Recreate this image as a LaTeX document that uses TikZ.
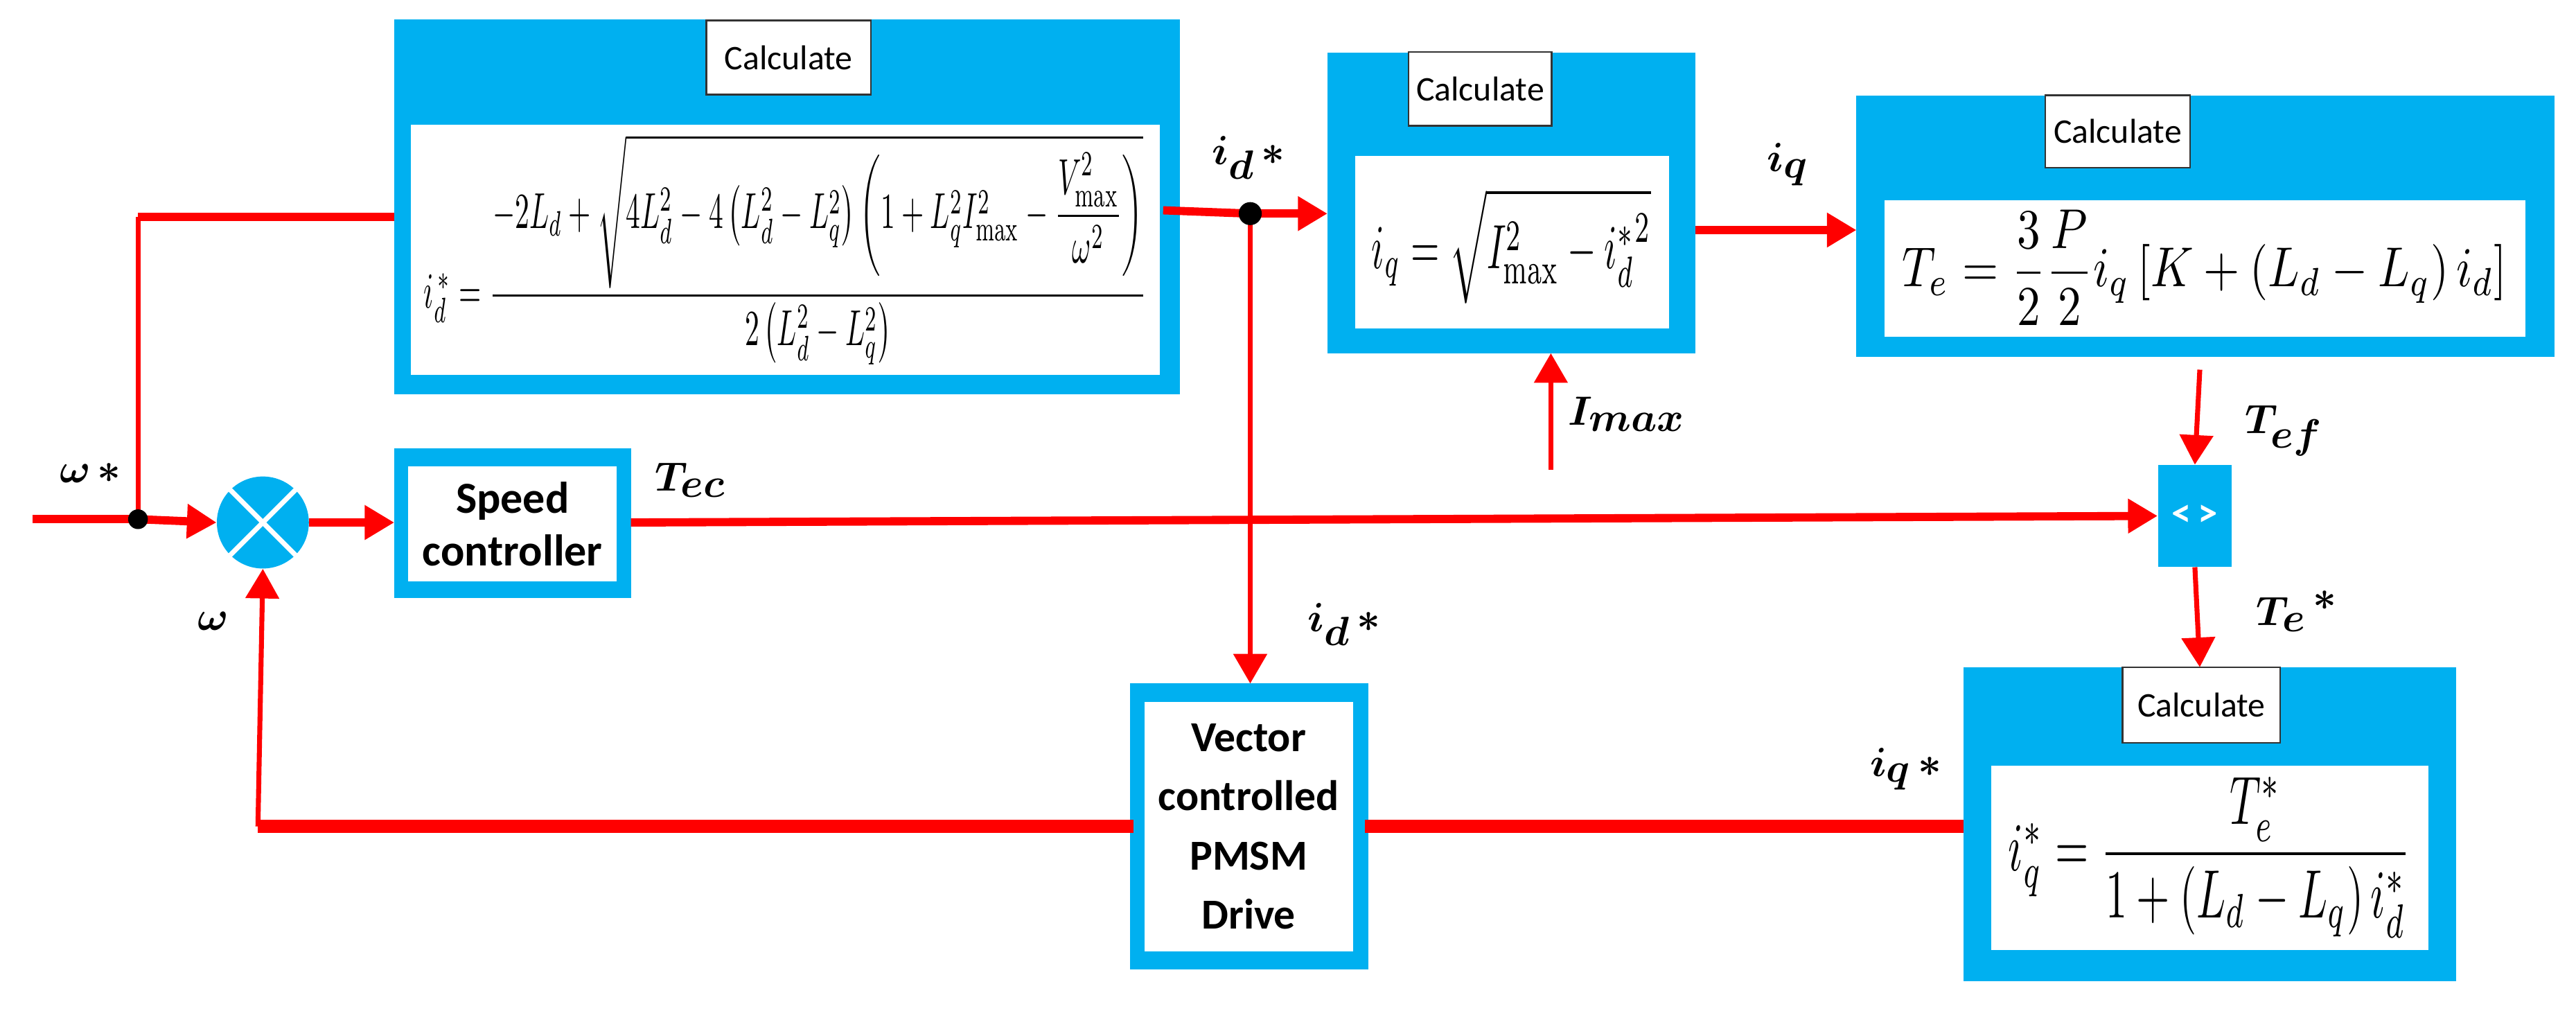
\documentclass[tikz,border=0pt]{standalone}
\usepackage{fontspec}
\usepackage{amsmath,bm}
\newfontfamily\calib{Carlito}
\usetikzlibrary{arrows.meta}
\definecolor{sky}{HTML}{00B0F0}
\tikzset{
 blk/.style={fill=sky,draw=none},
 wht/.style={fill=white,draw=none},
 calc/.style={fill=white,draw=black!80,line width=1pt,font=\calib\fontsize{21}{24}\selectfont,inner sep=0pt},
 sig/.style={draw=red,line width=5pt},
 thin/.style={draw=red,line width=3pt},
 arr/.style={-{Triangle[length=18pt,width=20pt]}},
 lab/.style={font=\fontsize{42}{44}\selectfont,inner sep=0pt},
}
\begin{document}
\begin{tikzpicture}[x=1pt,y=-1pt]
\useasboundingbox (0,0) rectangle (1568,615);
% Box1
\path[blk] (240,12) rectangle (718,240);
\path[wht] (250,76) rectangle (706,228);
\node[calc,minimum width=100pt,minimum height=45pt] (c1) at (480,35) {Calculate};
\node[inner sep=0pt] (f1) at (478,152) {\resizebox*{440pt}{140pt}{$i_d^{\,*}=\dfrac{-2L_d+\sqrt{4L_d^2-4\left(L_d^2-L_q^2\right)\left(1+L_q^2I_{\max}^2-\dfrac{V_{\max}^2}{\omega^2}\right)}}{2\left(L_d^2-L_q^2\right)}$}};
% Box2
\path[blk] (808,32) rectangle (1032,215);
\path[wht] (825,95) rectangle (1016,200);
\node[calc,minimum width=87pt,minimum height=45pt] (c2) at (901,54) {Calculate};
\node[inner sep=0pt] (f2) at (920,150) {\resizebox*{170pt}{70pt}{$i_q=\sqrt{I_{\max}^2-{i_d^{*}}^2}$}};
% Box3
\path[blk] (1130,58) rectangle (1555,217);
\path[wht] (1147,122) rectangle (1537,205);
\node[calc,minimum width=88pt,minimum height=44pt] (c3) at (1289,80) {Calculate};
\node[inner sep=0pt] (f3) at (1342,163) {\resizebox*{368pt}{70pt}{$T_e=\dfrac{3}{2}\dfrac{P}{2}i_q\left[K+\left(L_d-L_q\right)i_d\right]$}};
% Box4
\path[blk] (1195,406) rectangle (1495,597);
\path[wht] (1212,466) rectangle (1478,578);
\node[calc,minimum width=96pt,minimum height=46pt] (c4) at (1340,429) {Calculate};
\node[inner sep=0pt] (f4) at (1345,522) {\resizebox*{245pt}{98pt}{$i_q^{*}=\dfrac{T_e^{*}}{1+\left(L_d-L_q\right)i_d^{*}}$}};
% Speed controller
\path[blk] (240,273) rectangle (384,364);
\node[wht,minimum width=127pt,minimum height=70pt,font=\calib\bfseries\fontsize{27}{32}\selectfont,align=center] (sc) at (312,319) {Speed\\controller};
% Vector box
\path[blk] (688,416) rectangle (833,590);
\node[wht,minimum width=127pt,minimum height=152pt,font=\calib\bfseries\fontsize{26}{36}\selectfont,align=center] (vc) at (760,503) {Vector\\controlled\\PMSM\\Drive};
% Comparator
\node[fill=sky,minimum width=45pt,minimum height=62pt,inner sep=0pt,text=white,font=\calib\bfseries\fontsize{24}{26}\selectfont] (cmp) at (1336,314) {<\,>};
% Sum
\node[circle,fill=sky,minimum size=56pt,inner sep=0pt] (sum) at (160,318) {};
\draw[white,line width=3pt] (sum.45) -- (sum.225) (sum.135) -- (sum.315);
% coordinates
\coordinate (in) at (20,316);
\coordinate (j1) at (84,316);
\coordinate (j1t) at (84,132);
\coordinate (b1l) at (240,132);
\coordinate (b1r) at (708,128);
\coordinate (j2) at (761,130);
\coordinate (b2l) at (808,130);
\coordinate (b2r) at (1032,140);
\coordinate (b3l) at (1130,140);
\coordinate (im) at (944,286);
\coordinate (b2b) at (944,215);
\coordinate (b3b) at (1339,225);
\coordinate (b4t) at (1339,406);
\coordinate (vt) at (761,416);
\coordinate (scl) at (240,318);
\coordinate (scr) at (384,318);
\coordinate (fb) at (157,503);
\coordinate (vl) at (690,503);
\coordinate (vr) at (831,503);
\coordinate (b4l) at (1195,503);
% connectors
\draw[sig] (in) -- (j1);
\draw[sig,arr] (j1) -- (sum.west);
\draw[thin] (j1) -- (j1t);
\draw[sig] (j1t) -- (b1l);
\draw[sig,arr] (sum.east) -- (scl);
\draw[sig] (b1r) -- (j2);
\draw[sig,arr] (j2) -- (b2l);
\draw[thin,arr] (j2) -- (vt);
\draw[sig,arr] (scr) -- (cmp.west);
\draw[sig,arr] (b2r) -- (b3l);
\draw[thin,arr] (im) -- (b2b);
\draw[thin,arr] (b3b) -- (cmp.north);
\draw[thin,arr] (cmp.south) -- (b4t);
\draw[draw=red,line width=8pt] (vl) -- (fb);
\draw[thin,arr] (fb) -- (sum.south);
\draw[draw=red,line width=8pt] (vr) -- (b4l);
\fill (j1) circle (6pt);
\fill (j2) circle (7pt);
% labels
\node[lab] (lw1) at (55,288) {$\bm{\omega}\,\bm{*}$};
\node[lab] (lw2) at (130,378) {$\bm{\omega}$};
\node[lab] (ltec) at (420,292) {$\bm{T_{ec}}$};
\node[lab] (lid1) at (760,96) {$\bm{i_d}\,\bm{*}$};
\node[lab] (liq) at (1088,100) {$\bm{i_q}$};
\node[lab] (limax) at (990,252) {$\bm{I_{max}}$};
\node[lab] (ltef) at (1390,262) {$\bm{T_{ef}}$};
\node[lab] (lte) at (1398,372) {$\bm{T_e}\,^{\bm{*}}$};
\node[lab] (lid2) at (818,380) {$\bm{i_d}\,\bm{*}$};
\node[lab] (liqs) at (1160,468) {$\bm{i_q}\,\bm{*}$};
\end{tikzpicture}
\end{document}
